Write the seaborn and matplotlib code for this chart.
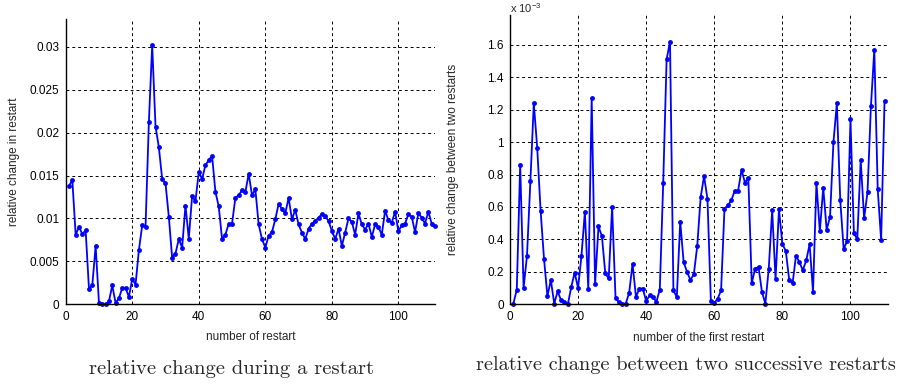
import numpy as np
import matplotlib
matplotlib.use("Agg")
import matplotlib.pyplot as plt
import seaborn as sns
import pandas as pd

sns.set_style("white")
plt.rcParams['font.family'] = ['Liberation Sans', 'DejaVu Sans']
plt.rcParams['mathtext.fontset'] = 'custom'
plt.rcParams['mathtext.rm'] = 'Liberation Sans'

# relative change during a restart (restart 1..111)
change_in_restart = [
    0.0138, 0.01445, 0.0081, 0.0090, 0.0082, 0.0086, 0.0018, 0.0022, 0.0068, 0.0002,
    0.0000, 0.0000, 0.00035, 0.0022, 0.00015, 0.0007, 0.0019, 0.0019, 0.00085, 0.00295,
    0.0023, 0.0063, 0.0092, 0.0090, 0.0212, 0.0302, 0.0207, 0.0183, 0.0146, 0.0141,
    0.0102, 0.0054, 0.0059, 0.0076, 0.0066, 0.0115, 0.00765, 0.0126, 0.0120, 0.0154,
    0.0146, 0.0162, 0.0168, 0.0173, 0.0131, 0.0114, 0.0076, 0.0081, 0.0094, 0.0094,
    0.0124, 0.0127, 0.0133, 0.01305, 0.0152, 0.0127, 0.0134, 0.0093, 0.0076, 0.0066,
    0.0080, 0.0084, 0.0099, 0.0117, 0.0111, 0.0106, 0.0124, 0.0099, 0.0110, 0.0093,
    0.00835, 0.0076, 0.0088, 0.0094, 0.0097, 0.0101, 0.0105, 0.0103, 0.0097, 0.00855,
    0.0076, 0.0088, 0.0068, 0.00835, 0.0100, 0.0096, 0.0081, 0.0106, 0.0093, 0.0087,
    0.0094, 0.00785, 0.0093, 0.0090, 0.0081, 0.0109, 0.0098, 0.0095, 0.0108, 0.0085,
    0.0092, 0.0094, 0.0105, 0.0102, 0.0084, 0.0106, 0.0101, 0.0094, 0.0108, 0.0094,
    0.0091,
]

# relative change between two successive restarts, in units of 1e-3 (restart 1..110)
change_between = [
    0.004, 0.09, 0.86, 0.10, 0.30, 0.76, 1.24, 0.965, 0.576, 0.28,
    0.05, 0.15, 0.004, 0.08, 0.025, 0.015, 0.0, 0.107, 0.195, 0.10,
    0.30, 0.57, 0.095, 1.27, 0.125, 0.48, 0.42, 0.19, 0.16, 0.60,
    0.04, 0.012, 0.004, 0.004, 0.07, 0.25, 0.045, 0.097, 0.097, 0.02,
    0.055, 0.045, 0.015, 0.09, 0.745, 1.51, 1.62, 0.085, 0.045, 0.51,
    0.26, 0.20, 0.15, 0.185, 0.36, 0.66, 0.79, 0.65, 0.02, 0.008,
    0.035, 0.086, 0.59, 0.61, 0.64, 0.70, 0.70, 0.83, 0.75, 0.78,
    0.13, 0.22, 0.23, 0.076, 0.004, 0.22, 0.58, 0.156, 0.586, 0.37,
    0.33, 0.15, 0.13, 0.30, 0.26, 0.21, 0.27, 0.37, 0.076, 0.75,
    0.45, 0.72, 0.46, 0.54, 1.00, 1.24, 0.64, 0.34, 0.39, 1.14,
    0.44, 0.40, 0.89, 0.53, 0.69, 1.22, 1.57, 0.71, 0.395, 1.255,
]

left_yticks = [0, 0.005, 0.01, 0.015, 0.02, 0.025, 0.03]
left_yticklabels = ['0', '0.005', '0.01', '0.015', '0.02', '0.025', '0.03']
right_yticks = [0, 0.2, 0.4, 0.6, 0.8, 1.0, 1.2, 1.4, 1.6]
right_yticklabels = ['0', '0.2', '0.4', '0.6', '0.8', '1', '1.2', '1.4', '1.6']
xticks = [0, 20, 40, 60, 80, 100]

df1 = pd.DataFrame({'restart': np.arange(1, len(change_in_restart) + 1),
                    'change': change_in_restart})
df2 = pd.DataFrame({'restart': np.arange(1, len(change_between) + 1),
                    'change': change_between})

fig = plt.figure(figsize=(9.01, 3.84), dpi=100)
ax1 = fig.add_axes([0.0729, 0.2076, 0.4099, 0.7422])
ax2 = fig.add_axes([0.566, 0.2076, 0.4195, 0.7534])


def style_axis(ax, yticks, yticklabels, ylim, ylabel, xlabel, ylab_x):
    ax.set_xlim(0, 111)
    ax.set_ylim(*ylim)
    ax.set_xticks(xticks)
    ax.set_xticklabels([str(t) for t in xticks])
    ax.set_yticks(yticks)
    ax.set_yticklabels(yticklabels)
    ax.grid(True, color='black', linestyle=(0, (3, 3)), linewidth=0.7)
    ax.set_axisbelow(True)
    for s in ['top', 'right']:
        ax.spines[s].set_visible(False)
    for s in ['left', 'bottom']:
        ax.spines[s].set_color('black')
        ax.spines[s].set_linewidth(1.0)
    ax.tick_params(direction='in', length=3, width=0.8, labelsize=8.5,
                   pad=4.5, colors='black')
    ax.set_xlabel(xlabel, fontsize=8.5)
    ax.set_ylabel(ylabel, fontsize=8.5)
    ax.xaxis.set_label_coords(0.5, -0.095)
    ax.yaxis.set_label_coords(ylab_x, 0.5)


sns.lineplot(data=df1, x='restart', y='change', ax=ax1, color='blue',
             marker='o', markersize=3.5, markeredgewidth=0, linewidth=1.3,
             clip_on=False)
style_axis(ax1, left_yticks, left_yticklabels, (0, 0.0332),
           'relative change in restart', 'number of restart', -0.124)

sns.lineplot(data=df2, x='restart', y='change', ax=ax2, color='blue',
             marker='o', markersize=3.5, markeredgewidth=0, linewidth=1.3,
             clip_on=False)
style_axis(ax2, right_yticks, right_yticklabels, (0, 1.784),
           'relative change between two restarts', 'number of the first restart', -0.135)
ax2.text(0.0, 1.0065, r'x 10$^{\mathregular{-3}}$', transform=ax2.transAxes,
         fontsize=8, ha='left', va='baseline')

fig.text(232 / 901, 1 - 369 / 384, 'relative change during a restart',
         family='cmr10', fontsize=14.8, ha='center', va='center')
fig.text(686 / 901, 1 - 365 / 384, 'relative change between two successive restarts',
         family='cmr10', fontsize=14.6, ha='center', va='center')

fig.savefig('out.png', dpi=100)
